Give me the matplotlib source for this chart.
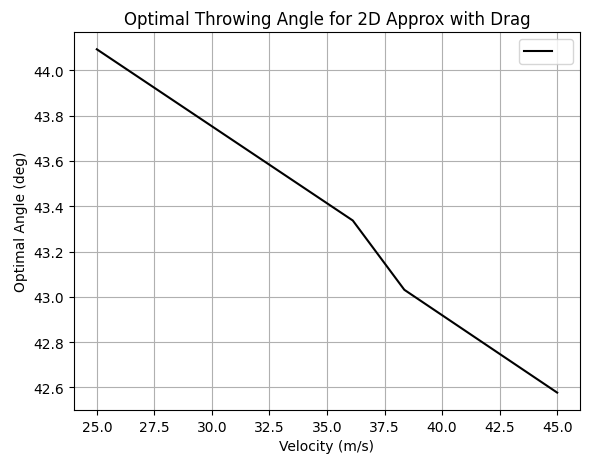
import numpy as np
import matplotlib
matplotlib.use("Agg")
import matplotlib.pyplot as plt

velocity = [25.0, 36.12, 38.36, 45.0]
opt_angle = [44.093, 43.337, 43.031, 42.577]


def main():
    fig, ax = plt.subplots(figsize=(6, 4.6), dpi=100)
    fig.subplots_adjust(left=0.123, right=0.967, bottom=0.107, top=0.928)

    ax.plot(velocity, opt_angle, color="black", label=" ")
    ax.set_title("Optimal Throwing Angle for 2D Approx with Drag")
    ax.set_xlabel("Velocity (m/s)")
    ax.set_ylabel("Optimal Angle (deg)")
    ax.grid(True)
    ax.legend(loc="upper right")

    fig.savefig("out.png", dpi=100)
    plt.close(fig)


if __name__ == "__main__":
    main()
